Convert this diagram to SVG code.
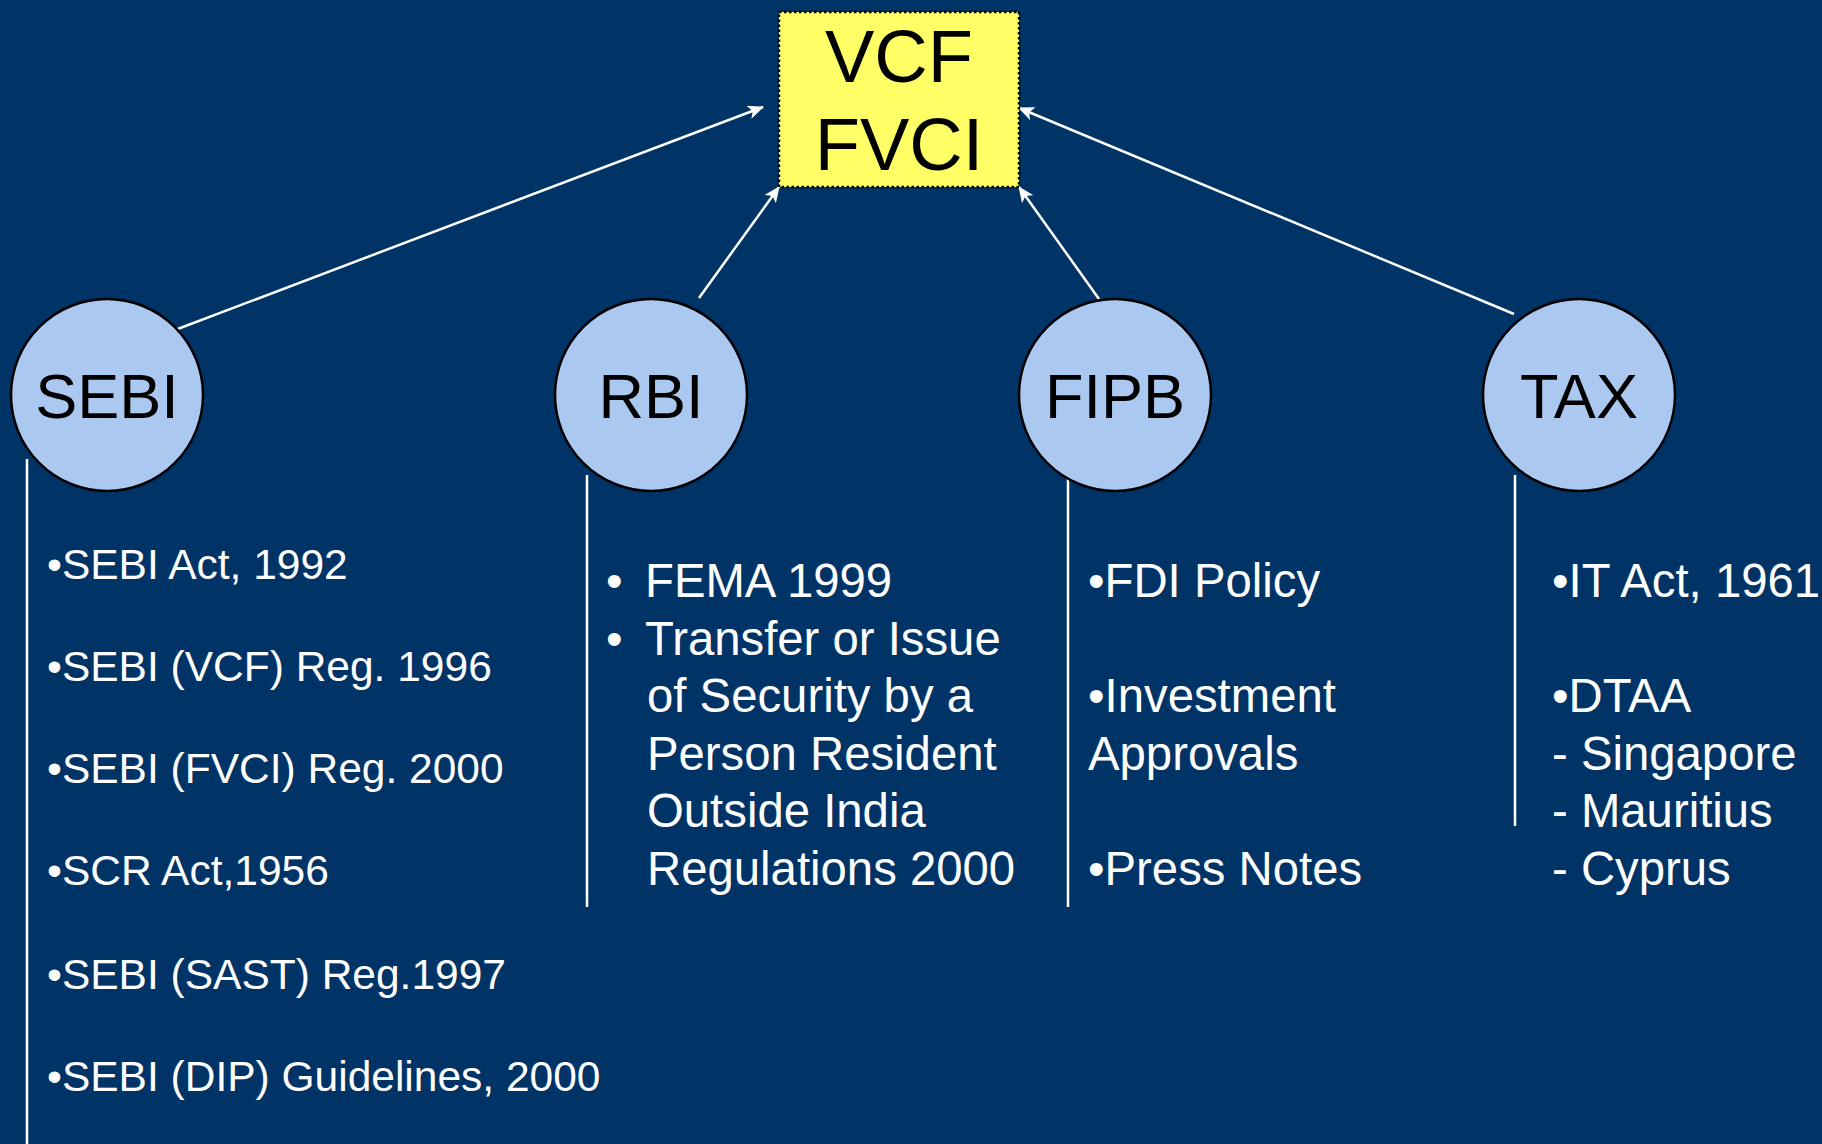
<svg xmlns="http://www.w3.org/2000/svg" width="1822" height="1144" viewBox="0 0 1822 1144">
  <style>
    .bg { fill: #003366; }
    .hub { fill: #FFFF66; stroke: #000; stroke-width: 2.5; stroke-dasharray: 2.5 2.5; }
    .org { fill: #ABC8F0; stroke: #000; stroke-width: 2.5; }
    .hubtxt { font-family: "Liberation Sans", Arial, sans-serif; font-size: 74px; fill: #000; text-anchor: middle; }
    .orgtxt { font-family: "Liberation Sans", Arial, sans-serif; font-size: 63px; fill: #000; text-anchor: middle; }
    .list { font-family: "Liberation Sans", Arial, sans-serif; fill: #fff; }
    .s42 { font-size: 42.5px; }
    .s47 { font-size: 47.3px; }
    .edge { stroke: #fff; stroke-width: 2.5; fill: none; }
    .rule { stroke: #fff; stroke-width: 2.5; }
  </style>
  <defs>
    <marker id="arrow" markerUnits="userSpaceOnUse" markerWidth="16" markerHeight="14" refX="15" refY="7" orient="auto">
      <path d="M0,0 L16,7 L0,14 L4,7 Z" fill="#fff"/>
    </marker>
  </defs>

  <rect class="bg" x="0" y="0" width="1822" height="1144"/>

  <!-- connectors from each authority to the central box -->
  <g id="connectors">
    <line class="edge" x1="175" y1="330" x2="763" y2="107" marker-end="url(#arrow)"/>
    <line class="edge" x1="699" y1="298" x2="779" y2="187" marker-end="url(#arrow)"/>
    <line class="edge" x1="1099" y1="299" x2="1019" y2="187" marker-end="url(#arrow)"/>
    <line class="edge" x1="1514" y1="314" x2="1019" y2="108" marker-end="url(#arrow)"/>
    <!-- vertical rules beside each list -->
    <line class="rule" x1="27" y1="459" x2="27" y2="1144"/>
    <line class="rule" x1="587" y1="475" x2="587" y2="907"/>
    <line class="rule" x1="1068" y1="475" x2="1068" y2="907"/>
    <line class="rule" x1="1515" y1="475" x2="1515" y2="826"/>
  </g>

  <g id="vcf-fvci">
    <rect class="hub" x="779" y="12" width="240" height="175"/>
    <text class="hubtxt" x="899" y="82">VCF</text>
    <text class="hubtxt" x="899" y="170">FVCI</text>
  </g>

  <g id="sebi">
    <circle class="org" cx="107" cy="395" r="96"/>
    <text class="orgtxt" x="107" y="418">SEBI</text>
  </g>

  <g id="rbi">
    <circle class="org" cx="651" cy="395" r="96"/>
    <text class="orgtxt" x="651" y="418">RBI</text>
  </g>

  <g id="fipb">
    <circle class="org" cx="1115" cy="395" r="96"/>
    <text class="orgtxt" x="1115" y="418">FIPB</text>
  </g>

  <g id="tax">
    <circle class="org" cx="1579" cy="395" r="96"/>
    <text class="orgtxt" x="1579" y="418">TAX</text>
  </g>

  <g id="sebi-list" class="list s42">
    <text x="47" y="579">•SEBI Act, 1992</text>
    <text x="47" y="681">•SEBI (VCF) Reg. 1996</text>
    <text x="47" y="783">•SEBI (FVCI) Reg. 2000</text>
    <text x="47" y="885">•SCR Act,1956</text>
    <text x="47" y="989">•SEBI (SAST) Reg.1997</text>
    <text x="47" y="1091">•SEBI (DIP) Guidelines, 2000</text>
  </g>

  <g id="rbi-list" class="list s47">
    <text x="606" y="597">•</text>
    <text x="645" y="597">FEMA 1999</text>
    <text x="606" y="655">•</text>
    <text x="645" y="655">Transfer or Issue</text>
    <text x="647" y="712">of Security by a</text>
    <text x="647" y="770">Person Resident</text>
    <text x="647" y="827">Outside India</text>
    <text x="647" y="885">Regulations 2000</text>
  </g>

  <g id="fipb-list" class="list s47">
    <text x="1088" y="597">•FDI Policy</text>
    <text x="1088" y="712">•Investment</text>
    <text x="1088" y="770">Approvals</text>
    <text x="1088" y="885">•Press Notes</text>
  </g>

  <g id="tax-list" class="list s47">
    <text x="1552" y="597">•IT Act, 1961</text>
    <text x="1552" y="712">•DTAA</text>
    <text x="1552" y="770">- Singapore</text>
    <text x="1552" y="827">- Mauritius</text>
    <text x="1552" y="885">- Cyprus</text>
  </g>
</svg>
